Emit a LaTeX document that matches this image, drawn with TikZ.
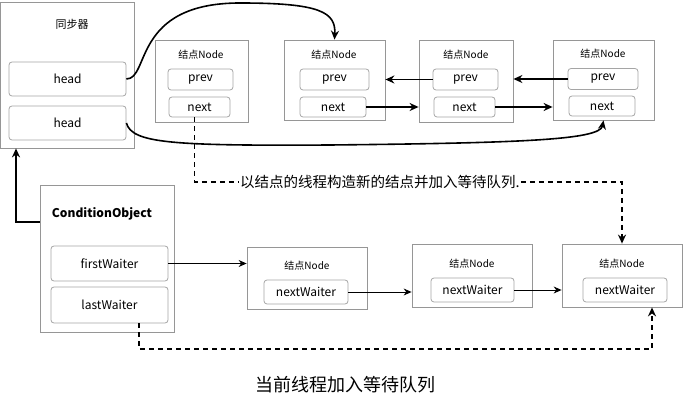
\documentclass[tikz,border=0pt]{standalone}
\usepackage{fontspec}
\setmainfont{Noto Sans CJK SC}
\usetikzlibrary{arrows.meta}

\definecolor{boxline}{RGB}{150,150,150}
\definecolor{fieldline}{RGB}{165,165,165}

\tikzset{
  box/.style={draw=boxline,line width=0.8pt,inner sep=0pt},
  field/.style={draw=fieldline,line width=0.8pt,rounded corners=3pt,inner sep=0pt,font=\fontsize{12}{14}\selectfont},
  nodetitle/.style={font=\fontsize{10}{12}\selectfont},
  link/.style={-{Stealth[length=9pt,width=8pt]},line width=1.6pt},
  thinlink/.style={-{Stealth[length=8pt,width=7pt]},line width=0.9pt},
  dashlink/.style={-{Stealth[length=9pt,width=8pt]},line width=1.6pt,dash pattern=on 5pt off 4pt}
}

\begin{document}
\begin{tikzpicture}[x=1pt,y=-1pt]
  \useasboundingbox (0,0) rectangle (683,414);
  % synchronizer
  \node[box,minimum width=134pt,minimum height=146pt] at(67,75)(sync){};
  \node at(72,24)(syncT){\fontsize{11}{13}\selectfont 同步器};
  \node[field,minimum width=117pt,minimum height=34pt] at(67.5,79)(headA){head};
  \node[field,minimum width=117pt,minimum height=34pt] at(67.5,123)(headB){head};
  % node 1
  \node[box,minimum width=93pt,minimum height=82pt] at(201.5,81)(nodeA){};
  \node[nodetitle] at(201,55)(nodeAT){结点Node};
  \node[field,minimum width=65pt,minimum height=21pt] at(200.5,79.5)(prevA){prev};
  \node[field,minimum width=61pt,minimum height=20pt] at(199.5,107)(nextA){next};
  % node 2
  \node[box,minimum width=101pt,minimum height=80pt] at(334.5,80)(nodeB){};
  \node[nodetitle] at(334,55)(nodeBT){结点Node};
  \node[field,minimum width=69pt,minimum height=21pt] at(334.5,79.5)(prevB){prev};
  \node[field,minimum width=66pt,minimum height=20pt] at(333,107)(nextB){next};
  % node 3
  \node[box,minimum width=94pt,minimum height=82pt] at(466,81)(nodeC){};
  \node[nodetitle] at(466,55)(nodeCT){结点Node};
  \node[field,minimum width=65pt,minimum height=21pt] at(465.5,79.5)(prevC){prev};
  \node[field,minimum width=61pt,minimum height=20pt] at(464.5,107)(nextC){next};
  % node 4
  \node[box,minimum width=101pt,minimum height=80pt] at(603.5,80)(nodeD){};
  \node[nodetitle] at(603,54)(nodeDT){结点Node};
  \node[field,minimum width=70pt,minimum height=21pt] at(603,79)(prevD){prev};
  \node[field,minimum width=66pt,minimum height=20pt] at(602,106)(nextD){next};
  % links between nodes
  \draw[link](prevC.west) -- (prevC.west -| nodeB.east);
  \draw[link](nextB.east) -- (nextB.east -| nodeC.west);
  \draw[link](prevD.west) -- (prevD.west -| nodeC.east);
  \draw[link](nextC.east) -- (nextC.east -| nodeD.west);
  % head pointers
  \draw[link](headA.east) .. controls (150,79) and (132,3) .. (240,3)
    .. controls (320,3) and (336,12) .. (nodeB.north);
  \draw[link](headB.east) .. controls (132,143) and (170,146) .. (330,145)
    .. controls (520,143) and (600,140) .. (nodeD.south);
  % new node text
  \node[inner sep=1pt] at(380,182)(newT){\fontsize{14.5}{16}\selectfont 以结点的线程构造新的结点并加入等待队列.};
  \draw[line width=1.6pt,dash pattern=on 5pt off 4pt]([xshift=-5pt]nextA.south) |- (newT.west);
  % condition object
  \node[box,minimum width=134pt,minimum height=147pt] at(107,258.5)(cond){};
  \node at(102,214)(condT){\fontsize{12}{14}\selectfont\bfseries ConditionObject};
  \node[field,minimum width=117pt,minimum height=35pt] at(109.5,263.5)(firstW){firstWaiter};
  \node[field,minimum width=117pt,minimum height=36pt] at(109.5,305)(lastW){lastWaiter};
  \draw[link](cond.west |- 0,222) -| ([xshift=-51pt]sync.south);
  % waiting nodes
  \node[box,minimum width=120pt,minimum height=62pt] at(307,278)(waitA){};
  \node[nodetitle] at(307,266)(waitAT){结点Node};
  \node[field,minimum width=84pt,minimum height=24pt] at(306,292)(nwA){nextWaiter};
  \node[box,minimum width=120pt,minimum height=63pt] at(472,275.5)(waitB){};
  \node[nodetitle] at(472,264)(waitBT){结点Node};
  \node[field,minimum width=83pt,minimum height=24pt] at(472.5,290)(nwB){nextWaiter};
  \node[box,minimum width=120pt,minimum height=63pt] at(622,275.5)(waitC){};
  \node[nodetitle] at(622,264)(waitCT){结点Node};
  \node[field,minimum width=84pt,minimum height=24pt] at(625,290)(nwC){nextWaiter};
  % waiter links
  \draw[thinlink](firstW.east) -- (firstW.east -| waitA.west);
  \draw[thinlink](nwA.east) -- (nwA.east -| waitB.west);
  \draw[thinlink](nwB.east) -- (nwB.east -| waitC.west);
  \draw[dashlink](newT.east) -| (waitC.north);
  \draw[dashlink]([xshift=29.5pt]lastW.south) |- (652,349) -- ([xshift=30pt]waitC.south);
  % caption
  \node at(345,385)(caption){\fontsize{18}{20}\selectfont 当前线程加入等待队列};
\end{tikzpicture}
\end{document}
